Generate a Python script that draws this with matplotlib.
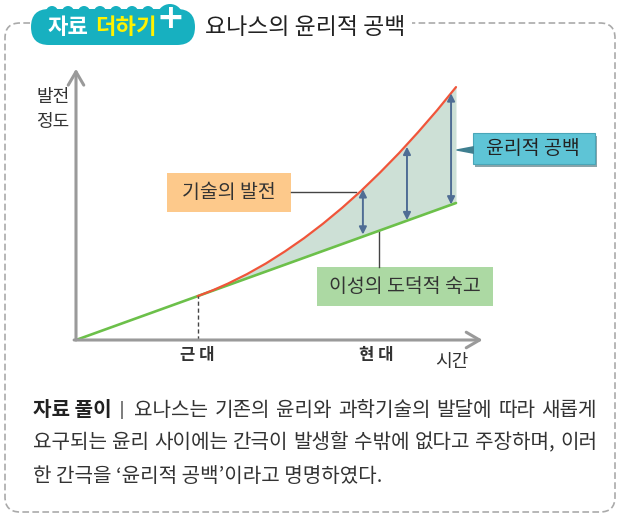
import matplotlib.pyplot as plt
from matplotlib.patches import Rectangle, FancyBboxPatch, Polygon, PathPatch
from matplotlib.path import Path

plt.rcParams['font.family'] = ['Noto Sans CJK KR', 'DejaVu Sans']

# data (time, development level)
reason_t = [0, 10]
reason_y = [0, 10]
tech_t = [3.2, 3.6, 4.0, 4.5, 5.0, 5.5, 6.0, 6.5, 7.0, 7.5, 8.0, 8.5, 9.0, 9.5, 10.0]
tech_y = [3.2, 3.63, 4.12, 4.81, 5.59, 6.47, 7.43, 8.49, 9.64, 10.88, 12.22, 13.64, 15.16, 16.76, 18.46]
green_at_tech = [3.2, 3.6, 4.0, 4.5, 5.0, 5.5, 6.0, 6.5, 7.0, 7.5, 8.0, 8.5, 9.0, 9.5, 10.0]
gap_t = [7.55, 8.71, 9.87]
gap_low = [7.7, 8.75, 9.9]
gap_high = [11.0, 14.1, 18.0]
knee_t = 3.2
period_t = [3.2, 7.9]
period_labels = ['근 대', '현 대']

fig = plt.figure(figsize=(6.2, 5.15), dpi=100)

# decoration layer in pixel coordinates
bg = fig.add_axes([0, 0, 1, 1])
bg.set_xlim(0, 620)
bg.set_ylim(515, 0)
bg.axis('off')

# dashed frame with a gap for the title
verts = [(30, 23), (20, 23), (5, 23), (5, 38), (5, 497), (5, 512), (20, 512), (600, 512),
         (615, 512), (615, 497), (615, 38), (615, 23), (600, 23), (412, 23)]
codes = [Path.MOVETO, Path.LINETO, Path.CURVE3, Path.CURVE3, Path.LINETO, Path.CURVE3, Path.CURVE3,
         Path.LINETO, Path.CURVE3, Path.CURVE3, Path.LINETO, Path.CURVE3, Path.CURVE3, Path.LINETO]
bg.add_patch(PathPatch(Path(verts, codes), fill=False, edgecolor='#aaaaaa', lw=1.2,
                       linestyle=(0, (4, 2))))

# title pill (cloud-like)
teal = '#17b0c0'
bg.add_patch(FancyBboxPatch((31, 9), 164, 36, boxstyle='round,pad=0,rounding_size=18',
                            facecolor=teal, edgecolor='none'))
for cx in [52, 68, 84, 100, 116, 132, 148]:
    bg.add_patch(plt.Circle((cx, 12), 6, color=teal, lw=0))
bg.add_patch(plt.Circle((170, 17), 13, color=teal, lw=0))
bg.text(48, 27, '자료', color='white', fontsize=16, fontweight='bold', va='center', ha='left')
bg.text(95, 27, '더하기', color='#fff200', fontsize=16, fontweight='bold', va='center', ha='left')
bg.text(170, 19, '+', color='white', fontsize=24, fontweight='bold', va='center', ha='center',
        family='DejaVu Sans')
bg.text(205, 27, '요나스의 윤리적 공백', color='#222222', fontsize=16.5, fontweight='medium',
        va='center', ha='left')

# y label
bg.text(36, 97, '발전', fontsize=13, color='#333333', va='center', ha='left')
bg.text(36, 122, '정도', fontsize=13, color='#333333', va='center', ha='left')

# label boxes
bg.add_patch(Rectangle((167, 173), 124, 39, facecolor='#fdc98b', edgecolor='none'))
bg.text(229, 192, '기술의 발전', fontsize=14, color='#333333', va='center', ha='center')
bg.plot([291, 356], [192, 192], color='#444444', lw=1)

bg.add_patch(Rectangle((317, 267), 176, 39, facecolor='#acd9a3', edgecolor='none'))
bg.text(405, 287, '이성의 도덕적 숙고', fontsize=14, color='#333333', va='center', ha='center')
bg.plot([379, 379], [231, 267], color='#444444', lw=1)

bg.add_patch(Rectangle((475, 136), 122, 31, facecolor='#8aa4aa', edgecolor='none'))
bg.add_patch(Rectangle((473, 133), 122, 31, facecolor='#5ec4d6', edgecolor='#4aa6b8', lw=0.8))
bg.text(533, 149, '윤리적 공백', fontsize=14, color='#222222', va='center', ha='center')
bg.add_patch(Polygon([(453, 150), (474, 146), (474, 154)], closed=True,
                     facecolor='#3f7f90', edgecolor='none'))

# explanation text, justified between two x positions
renderer = fig.canvas.get_renderer()


def justify(x0, x1, y, text, **kw):
    words = text.split(' ')
    objs = [bg.text(x0, y, w, va='center', ha='left', **kw) for w in words]
    widths = [o.get_window_extent(renderer).width for o in objs]
    gap = (x1 - x0 - sum(widths)) / (len(words) - 1)
    x = x0
    for o, w in zip(objs, widths):
        o.set_x(x)
        x += w + gap


body = dict(fontsize=14.5, color='#333333')
bg.text(33, 410, '자료 풀이', fontsize=14.5, fontweight='bold', color='#222222', va='center')
bg.text(122, 410, '|', fontsize=13, color='#555555', va='center', ha='center', family='DejaVu Sans')
justify(134, 597, 410, '요나스는 기존의 윤리와 과학기술의 발달에 따라 새롭게', **body)
justify(33, 597, 443, '요구되는 윤리 사이에는 간극이 발생할 수밖에 없다고 주장하며, 이러', **body)
bg.text(33, 476, '한 간극을 ‘윤리적 공백’이라고 명명하였다.', va='center', **body)

# chart layer: t=0 -> px 76, 38 px per unit; y=0 -> px 340, 13.7 px per unit
ax = fig.add_axes([76 / 620, (515 - 340) / 515, 11.5 * 38 / 620, 20 * 13.7 / 515])
ax.set_xlim(0, 11.5)
ax.set_ylim(0, 20)
ax.patch.set_visible(False)
for s in ax.spines.values():
    s.set_visible(False)
ax.set_xticks([])
ax.set_yticks([])

ax.fill_between(tech_t, green_at_tech, tech_y, color='#cde0d6', lw=0)
ax.plot(reason_t, reason_y, color='#6cc04a', lw=1.9, solid_capstyle='round')
ax.plot(tech_t, tech_y, color='#f0553a', lw=1.6, solid_capstyle='round')
ax.plot([knee_t, knee_t], [0, knee_t], color='#444444', lw=1, linestyle=(0, (3, 2)))

for t, lo, hi in zip(gap_t, gap_low, gap_high):
    ax.annotate('', xy=(t, hi), xytext=(t, lo),
                arrowprops=dict(arrowstyle='<|-|>', color='#4f6d94', lw=1.4,
                                mutation_scale=11, shrinkA=0, shrinkB=0))

# axes with open arrowheads
ax.annotate('', xy=(0, 19.8), xytext=(0, 0), annotation_clip=False,
            arrowprops=dict(arrowstyle='->,head_length=0.6,head_width=0.35', color='#9a9a9a',
                            lw=2.2, shrinkA=0, shrinkB=0, mutation_scale=16))
ax.annotate('', xy=(10.7, 0), xytext=(-0.05, 0), annotation_clip=False,
            arrowprops=dict(arrowstyle='->,head_length=0.6,head_width=0.35', color='#9a9a9a',
                            lw=2.2, shrinkA=0, shrinkB=0, mutation_scale=16))

for t, lab in zip(period_t, period_labels):
    ax.text(t, -1.1, lab, fontsize=12, fontweight='bold', color='#333333', ha='center', va='center')
ax.text(9.9, -1.6, '시간', fontsize=13, color='#333333', ha='center', va='center')

fig.savefig('out.png', dpi=100)
